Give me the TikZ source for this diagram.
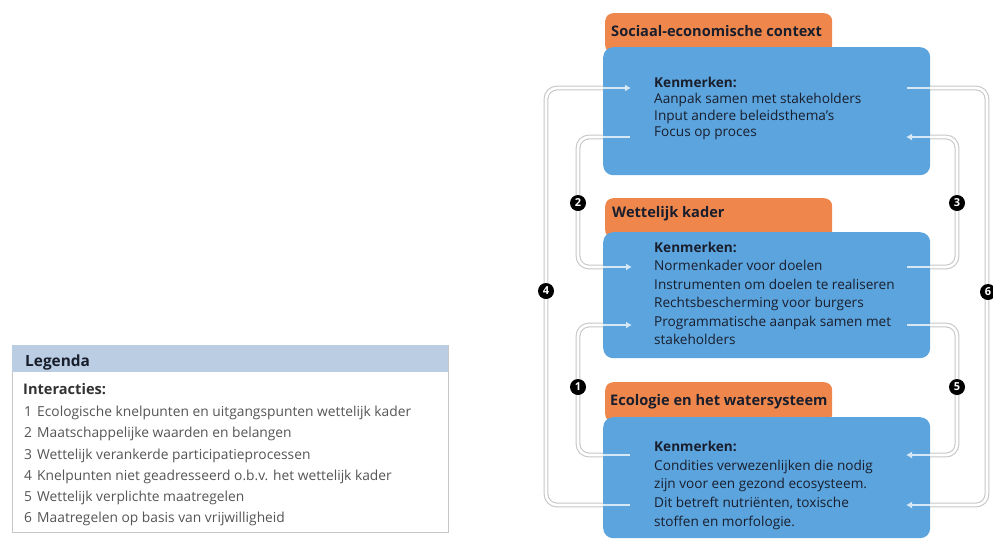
\documentclass[tikz,border=0pt]{standalone}
\usepackage{fontspec}
\setmainfont{Open Sans}
\usetikzlibrary{arrows.meta}
\definecolor{boxblue}{RGB}{92,164,221}
\definecolor{taborange}{RGB}{239,135,76}
\definecolor{leghead}{RGB}{186,205,226}
\definecolor{legtext}{RGB}{85,85,85}
\definecolor{boxtext}{RGB}{25,30,45}
\begin{document}
\begin{tikzpicture}[x=1pt,y=-1pt,
  bluebox/.style={fill=boxblue, rounded corners=10pt, anchor=north west, inner sep=0pt},
  tabbox/.style={fill=taborange, rounded corners=8pt, anchor=north west, inner sep=0pt},
  tabtext/.style={anchor=west, inner sep=0pt, text=boxtext, font=\bfseries\fontsize{14.6}{16}\selectfont},
  bodytext/.style={anchor=north west, inner sep=0pt, align=left, text=boxtext},
  conn/.style={draw=black!22, double=white, double distance=2.6pt, line width=1.1pt, rounded corners=11pt},
  stub/.style={draw=white!75!boxblue, line width=2.2pt},
  stubarrow/.style={stub, -{Latex[length=6pt,width=7pt]}},
  badge/.style={circle, fill=black, text=white, font=\bfseries\fontsize{11}{11}\selectfont, inner sep=0pt, minimum size=16pt},
  legitem/.style={anchor=west, inner sep=0pt, text=legtext, font=\fontsize{13.8}{15}\selectfont}
]
\useasboundingbox (0,0) rectangle (993,539);

% ---------- boxes ----------
\node[tabbox, minimum width=227pt, minimum height=40pt] (socTab) at (605,13) {};
\node[bluebox, minimum width=327pt, minimum height=128pt] (soc) at (603,47) {};
\node[tabtext] (socHead) at (611,31) {Sociaal-economische context};
\node[bodytext, font=\fontsize{13.6}{16.4}\selectfont] (socBody) at (654,77)
  {\textbf{Kenmerken:}\\Aanpak samen met stakeholders\\Input andere beleidsthema's\\Focus op proces};

\node[tabbox, minimum width=227pt, minimum height=40pt] (wetTab) at (605,198) {};
\node[bluebox, minimum width=327pt, minimum height=126pt] (wet) at (603,232) {};
\node[tabtext] (wetHead) at (612,214) {Wettelijk kader};
\node[bodytext, font=\fontsize{13.6}{18.4}\selectfont] (wetBody) at (654,242)
  {\textbf{Kenmerken:}\\Normenkader voor doelen\\Instrumenten om doelen te realiseren\\Rechtsbescherming voor burgers\\Programmatische aanpak samen met\\stakeholders};

\node[tabbox, minimum width=227pt, minimum height=40pt] (ecoTab) at (605,382) {};
\node[bluebox, minimum width=327pt, minimum height=121pt] (eco) at (603,417) {};
\node[tabtext] (ecoHead) at (610,402) {Ecologie en het watersysteem};
\node[bodytext, font=\fontsize{13.6}{18.7}\selectfont] (ecoBody) at (654,441)
  {\textbf{Kenmerken:}\\Condities verwezenlijken die nodig\\zijn voor een gezond ecosysteem.\\Dit betreft nutri\"enten, toxische\\stoffen en morfologie.};

% ---------- connector end points on the box edges ----------
\coordinate (socL1) at (603,88);   \coordinate (socL2) at (603,137);
\coordinate (socR1) at (930,88);   \coordinate (socR2) at (930,137);
\coordinate (wetL1) at (603,267);  \coordinate (wetL2) at (603,325);
\coordinate (wetR1) at (930,267);  \coordinate (wetR2) at (930,325);
\coordinate (ecoL1) at (603,455);  \coordinate (ecoL2) at (603,505);
\coordinate (ecoR1) at (930,455);  \coordinate (ecoR2) at (930,505);

% ---------- connectors (outside parts) ----------
% 4: Ecologie -> Sociaal (outer left)
\draw[conn] (ecoL2) -- (546,505) -- (546,88) -- (socL1);
% 2: Sociaal -> Wettelijk
\draw[conn] (socL2) -- (578,137) -- (578,267) -- (wetL1);
% 1: Ecologie -> Wettelijk
\draw[conn] (ecoL1) -- (578,455) -- (578,325) -- (wetL2);
% 3: Wettelijk -> Sociaal
\draw[conn] (wetR1) -- (957,267) -- (957,137) -- (socR2);
% 5: Wettelijk -> Ecologie
\draw[conn] (wetR2) -- (957,325) -- (957,455) -- (ecoR1);
% 6: Sociaal -> Ecologie (outer right)
\draw[conn] (socR1) -- (987,88) -- (987,505) -- (ecoR2);

% ---------- stubs inside the boxes ----------
\draw[stubarrow] (socL1) -- ++(28,0);
\draw[stub] (socL2) -- ++(27,0);
\draw[stub] (socR1) -- ++(-23,0);
\draw[stubarrow] (socR2) -- ++(-24,0);
\draw[stubarrow] (wetL1) -- ++(29,0);
\draw[stubarrow] (wetL2) -- ++(29,0);
\draw[stub] (wetR1) -- ++(-23,0);
\draw[stub] (wetR2) -- ++(-23,0);
\draw[stub] (ecoL1) -- ++(27,0);
\draw[stub] (ecoL2) -- ++(27,0);
\draw[stubarrow] (ecoR1) -- ++(-24,0);
\draw[stubarrow] (ecoR2) -- ++(-24,0);

% ---------- badges ----------
\node[badge] (b1) at (578,387) {1};
\node[badge] (b2) at (578,203) {2};
\node[badge] (b3) at (957,203) {3};
\node[badge] (b4) at (546,291) {4};
\node[badge] (b5) at (957,387) {5};
\node[badge] (b6) at (988,292) {6};

% ---------- legend ----------
\node[draw=black!22, fill=white, anchor=north west, inner sep=0pt, minimum width=436pt, minimum height=187pt] (leg) at (12,345) {};
\node[fill=leghead, anchor=north west, inner sep=0pt, minimum width=436pt, minimum height=27pt] (legHead) at (12,345) {};
\node[anchor=west, inner sep=0pt, text=boxtext, font=\bfseries\fontsize{15.4}{16}\selectfont] (legTitle) at (25,362) {Legenda};
\node[anchor=west, inner sep=0pt, text=black!80, font=\bfseries\fontsize{14.6}{16}\selectfont] (legSub) at (23,389) {Interacties:};
\node[legitem] (l1) at (24,413) {\makebox[13pt][l]{1}Ecologische knelpunten en uitgangspunten wettelijk kader};
\node[legitem] (l2) at (24,434) {\makebox[13pt][l]{2}Maatschappelijke waarden en belangen};
\node[legitem] (l3) at (24,456) {\makebox[13pt][l]{3}Wettelijk verankerde participatieprocessen};
\node[legitem] (l4) at (24,477) {\makebox[13pt][l]{4}Knelpunten niet geadresseerd o.b.v. het wettelijk kader};
\node[legitem] (l5) at (24,498) {\makebox[13pt][l]{5}Wettelijk verplichte maatregelen};
\node[legitem] (l6) at (24,519) {\makebox[13pt][l]{6}Maatregelen op basis van vrijwilligheid};
\end{tikzpicture}
\end{document}
